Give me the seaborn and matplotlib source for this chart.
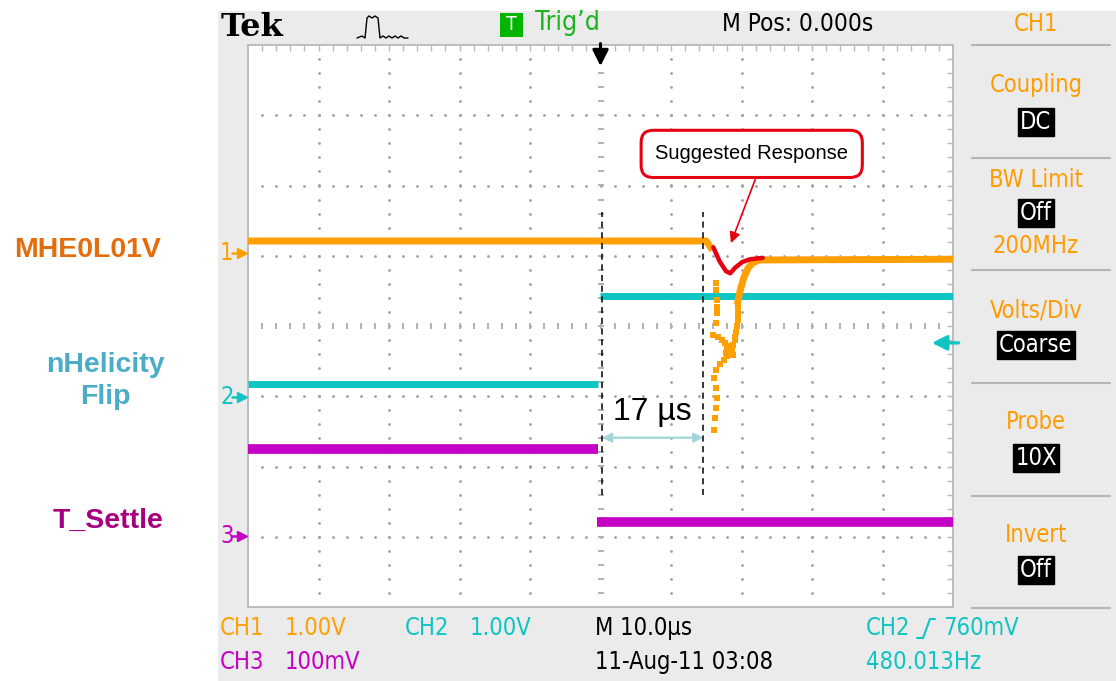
import numpy as np
import pandas as pd
import matplotlib
matplotlib.use("Agg")
import matplotlib.pyplot as plt
import seaborn as sns
from matplotlib.lines import Line2D
from matplotlib.patches import Rectangle
from matplotlib import font_manager as fm

sns.set_style("white")
plt.rcParams['font.family'] = ['Liberation Sans', 'DejaVu Sans']

# ---------------- data (time in µs, 10 µs/div ; amplitude in divisions) ----------------
ch1_pre_t = [-50.0, 15.0, 15.9]
ch1_pre_v = [1.21, 1.21, 1.08]
ch1_post_t = [19.4, 19.8, 20.3, 20.9, 21.6, 22.6, 50.0]
ch1_post_v = [0.30, 0.50, 0.68, 0.82, 0.90, 0.94, 0.95]
ch2_pre_t = [-50.0, -0.4]
ch2_pre_v = [-0.83, -0.83]
ch2_post_t = [-0.1, 50.0]
ch2_post_v = [0.43, 0.43]
ch3_pre_t = [-50.0, -0.4]
ch3_pre_v = [-1.75, -1.75]
ch3_post_t = [-0.5, 50.0]
ch3_post_v = [-2.79, -2.79]
glitch_t = [16.38, 16.38, 16.52, 16.52, 16.52, 16.38, 15.96, 16.67, 17.23, 17.66, 18.09,
            18.51, 18.79, 19.08, 18.37, 18.79, 17.94, 17.52, 16.95, 16.38, 16.10, 16.38,
            16.52, 16.38, 16.24, 16.10, 19.50, 19.50, 19.50, 19.50, 19.36, 19.22, 19.08,
            18.20, 18.60, 18.00, 17.80]
glitch_v = [0.61, 0.51, 0.37, 0.27, 0.19, 0.04, -0.13, -0.16, -0.20, -0.24, -0.28,
            -0.31, -0.27, -0.20, -0.37, -0.41, -0.43, -0.48, -0.54, -0.63, -0.74, -0.88,
            -1.02, -1.17, -1.31, -1.48, 0.34, 0.26, 0.17, 0.09, 0.00, -0.09, -0.16,
            -0.34, -0.35, -0.31, -0.38]
resp_t = [16.0, 16.9, 17.8, 18.4, 19.1, 20.1, 21.2, 23.0]
resp_v = [1.12, 0.92, 0.78, 0.75, 0.83, 0.91, 0.95, 0.97]
ground_names = ["1", "2", "3"]
ground_levels = [1.04, -1.01, -2.99]
marker_t = [0.2, 14.6]
delta_label = "17 µs"
trig_level = -0.24
signal_names = ["MHE0L01V", "nHelicity\nFlip", "T_Settle"]
menu_titles = ["Coupling", "BW Limit", "Volts/Div", "Probe", "Invert"]
menu_values = ["DC", "Off", "Coarse", "10X", "Off"]

C1, C2, C3 = "#ffa000", "#10c4c4", "#c400c4"

W, H = 1116, 681
fig = plt.figure(figsize=(W / 100, H / 100), dpi=100)
fig.patch.set_facecolor("white")
fig.add_artist(Rectangle((218 / W, 0), 1 - 218 / W, 1 - 11 / H, transform=fig.transFigure,
                         facecolor="#ebebeb", edgecolor="none", zorder=-5))

# condensed font for scope UI
cond_path = None
for f in fm.fontManager.ttflist:
    if f.fname.endswith("DejaVuSansCondensed.ttf"):
        cond_path = f.fname
        break
if cond_path is None:
    for f in fm.fontManager.ttflist:
        if "Narrow" in f.name or "Condensed" in f.name:
            cond_path = f.fname
            break
FP = fm.FontProperties(fname=cond_path) if cond_path else fm.FontProperties(family="DejaVu Sans")


def ftxt(px, py, s, color, size=17, ha="left", va="center", scope=True, **kw):
    if scope:
        kw["fontproperties"] = FP
    return fig.text(px / W, 1 - py / H, s, color=color, fontsize=size, ha=ha, va=va, **kw)


ax = fig.add_axes([248 / W, (H - 607) / H, 705 / W, 562 / H])
ax.set_facecolor("white")
ax.set_xlim(-50, 50)
ax.set_ylim(-4, 4)
for s in ax.spines.values():
    s.set_color("#b8b8b8")
    s.set_linewidth(1.3)
ax.set_xticks(np.arange(-48, 49, 2))
ax.set_yticks(np.round(np.arange(-3.8, 3.81, 0.2), 2))
ax.tick_params(axis="both", direction="in", length=4, width=1, color="#b8b8b8",
               top=True, right=True, labelbottom=False, labelleft=False)

# graticule dots
gx, gy = [], []
for x in [-40, -30, -20, -10, 10, 20, 30, 40]:
    yy = np.arange(-3.8, 3.81, 0.2)
    gx += [x] * len(yy)
    gy += list(yy)
for y in [-3, -2, -1, 1, 2, 3]:
    xx = np.arange(-48, 48.1, 2)
    gx += list(xx)
    gy += [y] * len(xx)
ax.scatter(gx, gy, s=4, color="#a0a0a0", linewidths=0, zorder=1)
yy = np.arange(-3.8, 3.81, 0.2)
ax.scatter([0] * len(yy), yy, marker="_", s=22, color="#b0b0b0", linewidths=1.4, zorder=1)
xx = np.arange(-48, 48.1, 2)
ax.scatter(xx, [0] * len(xx), marker="|", s=22, color="#b0b0b0", linewidths=1.4, zorder=1)


def seg_df(*segs):
    rows = []
    for i, (t, v) in enumerate(segs):
        for a, b in zip(t, v):
            rows.append({"t": a, "v": b, "seg": i})
    return pd.DataFrame(rows)


d1 = seg_df((ch1_pre_t, ch1_pre_v), (ch1_post_t, ch1_post_v))
d2 = seg_df((ch2_pre_t, ch2_pre_v), (ch2_post_t, ch2_post_v))
d3 = seg_df((ch3_pre_t, ch3_pre_v), (ch3_post_t, ch3_post_v))
sns.lineplot(data=d3, x="t", y="v", units="seg", estimator=None, sort=False, color=C3, lw=7,
             ax=ax, zorder=3, solid_capstyle="butt")
sns.lineplot(data=d2, x="t", y="v", units="seg", estimator=None, sort=False, color=C2, lw=5,
             ax=ax, zorder=3, solid_capstyle="butt")
sns.lineplot(data=d1, x="t", y="v", units="seg", estimator=None, sort=False, color=C1, lw=5,
             ax=ax, zorder=4, solid_capstyle="butt")
sns.scatterplot(x=glitch_t, y=glitch_v, color=C1, s=14, linewidth=0, marker="s", ax=ax, zorder=4)

# suggested response
sns.lineplot(x=resp_t, y=resp_v, sort=False, estimator=None, color="#e60012", lw=3.2, ax=ax, zorder=6,
             solid_capstyle="round", solid_joinstyle="round")
ax.set_xlabel("")
ax.set_ylabel("")

# dashed markers
for t in marker_t:
    ax.plot([t, t], [-2.41, 1.62], color="black", lw=1.1, ls=(0, (4, 3)), zorder=5)
ax.annotate("", xy=(marker_t[0], -1.59), xytext=(marker_t[1], -1.59),
            arrowprops=dict(arrowstyle="<|-|>", color="#a2d6da", lw=1.6, mutation_scale=14,
                            shrinkA=0, shrinkB=0), zorder=5)
ax.text(7.3, -1.22, delta_label, fontsize=23, ha="center", va="center", color="black",
        family=["Liberation Sans", "DejaVu Sans"], zorder=6)

# callout
ax.annotate("Suggested Response", xy=(18.5, 1.18), xytext=(21.45, 2.45),
            fontsize=14.5, ha="center", va="center", color="black",
            bbox=dict(boxstyle="round,pad=0.7,rounding_size=0.6", fc="white", ec="#e60012", lw=2.2),
            arrowprops=dict(arrowstyle="-|>", color="#e60012", lw=1.2, mutation_scale=16,
                            shrinkA=0, shrinkB=0, relpos=(0.55, 0)), zorder=7)

# trigger marker on top
ax.annotate("", xy=(0, 3.7), xytext=(0, 4.02),
            arrowprops=dict(arrowstyle="-|>", color="black", lw=2.2, mutation_scale=24,
                            shrinkA=0, shrinkB=0), annotation_clip=False, zorder=8)
# trigger level arrow on right
ax.annotate("", xy=(47.0, trig_level), xytext=(50.8, trig_level),
            arrowprops=dict(arrowstyle="-|>", color=C2, lw=2.4, mutation_scale=22,
                            shrinkA=0, shrinkB=0), annotation_clip=False, zorder=8)

# ground markers
gcol = [C1, C2, C3]
for name, lev, c in zip(ground_names, ground_levels, gcol):
    py = 326 - lev * 70.25
    ftxt(220, py, name, c, size=17)
    fig.add_artist(Line2D([232 / W, 240 / W], [1 - py / H] * 2, color=c, lw=1.8))
    fig.add_artist(Line2D([242 / W], [1 - py / H], marker=">", ms=7, color=c, mec=c))

# ---------------- left signal labels ----------------
lab_cols = ["#e46c0a", "#4bacc6", "#a6007f"]
fig.text(88 / W, 1 - 250 / H, signal_names[0], color=lab_cols[0], fontsize=20.5, fontweight="bold",
         ha="center", va="center")
fig.text(105 / W, 1 - 381 / H, signal_names[1], color=lab_cols[1], fontsize=20.5, fontweight="bold",
         ha="center", va="center", linespacing=1.25)
fig.text(108 / W, 1 - 521 / H, signal_names[2], color=lab_cols[2], fontsize=20.5, fontweight="bold",
         ha="center", va="center")

# ---------------- header ----------------
fig.text(221 / W, 1 - 27 / H, "Tek", fontsize=23, fontweight="bold", family="DejaVu Serif",
         color="black", ha="left", va="center")
px_pulse = [357, 362, 365, 367, 369, 372, 375, 378, 380, 383, 386, 389, 392, 395, 398, 401, 404, 408]
py_pulse = [38, 36, 38, 18, 16, 18, 16, 18, 38, 36, 38, 36, 38, 36, 38, 36, 38, 38]
fig.add_artist(Line2D([p / W for p in px_pulse], [1 - p / H for p in py_pulse], color="black", lw=1))
fig.add_artist(Rectangle((500 / W, 1 - 37 / H), 23 / W, 24 / H, transform=fig.transFigure,
                         facecolor="#00b400", edgecolor="none"))
ftxt(511.5, 25, "T", "white", size=14, ha="center")
ftxt(535, 23, "Trig’d", "#1db31d", size=19)
ftxt(722, 24, "M Pos: 0.000s", "black", size=17.5)

# ---------------- right menu ----------------
for yl in [45, 158, 270, 383, 496, 608]:
    fig.add_artist(Line2D([972 / W, 1110 / W], [1 - yl / H] * 2, color="#b4b4b4", lw=1.5))
MO = "#ff9c00"
ftxt(1036, 24, "CH1", MO, ha="center")
title_y = [85, 180, 310, 422, 535]
value_y = [122, 213, 345, 458, 570]
for t, ty, v, vy in zip(menu_titles, title_y, menu_values, value_y):
    ftxt(1036, ty, t, MO, ha="center")
    ftxt(1036, vy, v, "white", ha="center",
         bbox=dict(boxstyle="square,pad=0.08", fc="black", ec="black"))
ftxt(1036, 246, "200MHz", MO, ha="center")

# ---------------- bottom status ----------------
ftxt(220, 628, "CH1", C1)
ftxt(285, 628, "1.00V", C1)
ftxt(405, 628, "CH2", C2)
ftxt(470, 628, "1.00V", C2)
ftxt(595, 628, "M 10.0µs", "black")
ftxt(866, 628, "CH2", C2)
fig.add_artist(Line2D([917 / W, 923 / W, 930 / W, 935 / W], [1 - 638 / H, 1 - 638 / H, 1 - 619 / H, 1 - 619 / H],
                      color=C2, lw=1.5))
ftxt(943, 628, "760mV", C2)
ftxt(220, 662, "CH3", C3)
ftxt(285, 662, "100mV", C3)
ftxt(595, 662, "11-Aug-11 03:08", "black")
ftxt(866, 662, "480.013Hz", C2)

fig.savefig("out.png", dpi=100, facecolor=fig.get_facecolor())
